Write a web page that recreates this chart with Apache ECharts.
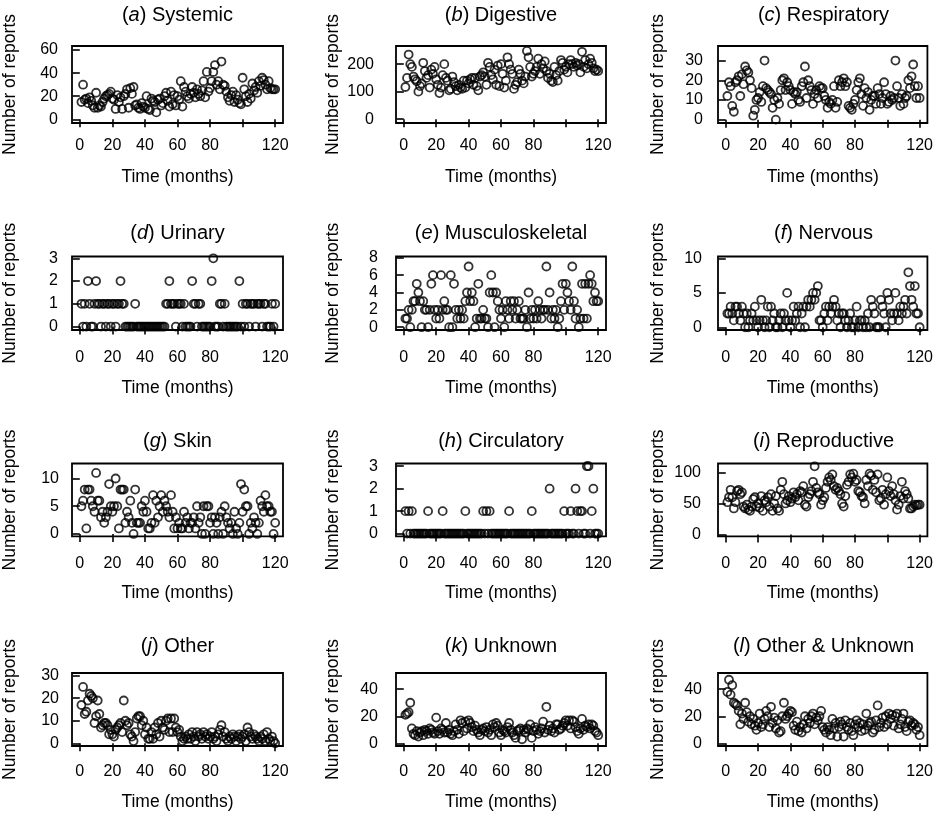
<!DOCTYPE html>
<html>
<head>
<meta charset="utf-8">
<title>Reports by system</title>
<script src="https://cdn.jsdelivr.net/npm/echarts@6/dist/echarts.min.js"></script>
<style>
  html, body { margin: 0; padding: 0; background: #fff; }
  #chart { width: 936px; height: 813px; }
</style>
</head>
<body>
<div id="chart"></div>
<script>
// month index 1..120
const months = Array.from({ length: 120 }, (_, i) => i + 1)

const systemic = [
  15, 30, 17, 18, 14, 19, 16, 12, 10, 23,
  10, 12, 11, 15, 18, 20, 21, 22, 24, 18,
  17, 9, 21, 15, 19, 9, 20, 22, 26, 10,
  27, 22, 28, 12, 13, 10, 9, 14, 11, 10,
  20, 9, 8, 18, 16, 15, 6, 17, 18, 12,
  14, 20, 23, 16, 11, 24, 13, 21, 12, 20,
  17, 33, 11, 28, 24, 20, 18, 22, 28, 23,
  19, 26, 22, 20, 25, 33, 19, 41, 24, 27,
  33, 41, 47, 30, 33, 26, 50, 30, 29, 24,
  19, 16, 21, 24, 15, 21, 17, 14, 13, 36,
  26, 20, 15, 22, 18, 31, 25, 28, 23, 33,
  29, 36, 34, 30, 26, 33, 27, 26, 26, 26
]
const digestive = [
  117, 150, 235, 200, 190, 155, 145, 138, 100, 120,
  130, 205, 175, 150, 160, 115, 180, 165, 190, 145,
  125, 95, 115, 160, 200, 150, 140, 105, 110, 155,
  135, 120, 105, 125, 115, 110, 140, 115, 140, 130,
  145, 150, 125, 150, 120, 105, 155, 160, 170, 155,
  125, 205, 190, 160, 145, 180, 125, 195, 120, 200,
  165, 115, 140, 225, 200, 180, 165, 110, 125, 135,
  180, 165, 140, 130, 155, 248, 225, 190, 155, 165,
  175, 190, 220, 165, 200, 185, 210, 175, 150, 165,
  140, 135, 190, 160, 140, 175, 215, 205, 180, 190,
  170, 200, 215, 200, 190, 205, 195, 200, 170, 245,
  190, 215, 185, 200, 220, 205, 185, 175, 180, 175
]
const respiratory = [
  12, 19, 17, 7, 4, 19, 20, 22, 12, 23,
  18, 27, 25, 24, 20, 16, 2, 5, 10, 11,
  14, 9, 17, 30, 16, 15, 14, 13, 6, 10,
  0, 11, 8, 15, 20, 21, 15, 19, 17, 15,
  8, 14, 13, 14, 10, 9, 17, 19, 27, 11,
  20, 17, 15, 8, 13, 15, 11, 17, 16, 16,
  12, 10, 6, 9, 8, 10, 17, 6, 9, 20,
  17, 19, 21, 17, 19, 7, 6, 5, 8, 10,
  15, 19, 21, 13, 7, 16, 11, 14, 5, 10,
  12, 12, 8, 16, 13, 8, 11, 19, 13, 8,
  9, 12, 10, 11, 30, 17, 11, 7, 13, 8,
  11, 12, 20, 16, 22, 28, 17, 11, 17, 11
]
const urinary = [
  1, 0, 1, 0, 2, 1, 0, 0, 1, 2,
  1, 1, 0, 1, 1, 0, 1, 1, 0, 1,
  1, 0, 1, 1, 2, 1, 1, 0, 0, 0,
  0, 0, 0, 1, 0, 0, 0, 0, 0, 0,
  0, 0, 0, 0, 0, 0, 0, 0, 0, 0,
  0, 0, 1, 1, 2, 1, 1, 1, 0, 1,
  1, 1, 0, 1, 0, 0, 0, 0, 2, 1,
  1, 0, 1, 1, 0, 0, 0, 0, 0, 0,
  2, 3, 0, 0, 0, 1, 1, 0, 1, 0,
  0, 0, 0, 0, 0, 0, 0, 2, 0, 1,
  0, 1, 1, 0, 1, 1, 1, 0, 1, 1,
  1, 0, 1, 1, 0, 0, 0, 1, 0, 1
]
const musculoskeletal = [
  1, 1, 2, 0, 2, 3, 3, 5, 4, 3,
  0, 3, 2, 2, 0, 2, 5, 6, 2, 1,
  2, 1, 6, 2, 3, 2, 2, 0, 6, 0,
  5, 2, 1, 2, 1, 2, 1, 3, 4, 7,
  3, 4, 3, 0, 1, 5, 1, 1, 2, 1,
  1, 0, 4, 6, 4, 0, 4, 3, 2, 1,
  2, 0, 3, 2, 1, 3, 2, 3, 1, 2,
  3, 1, 1, 1, 2, 0, 4, 1, 2, 1,
  2, 1, 3, 2, 1, 2, 2, 7, 2, 4,
  1, 2, 1, 2, 0, 1, 3, 5, 2, 5,
  4, 3, 2, 7, 3, 1, 2, 0, 1, 5,
  1, 5, 1, 5, 6, 5, 3, 4, 3, 3
]
const nervous = [
  2, 2, 3, 2, 1, 3, 3, 2, 1, 3,
  2, 0, 2, 0, 1, 2, 1, 3, 1, 0,
  1, 4, 1, 0, 1, 3, 0, 3, 1, 2,
  0, 0, 1, 2, 0, 2, 1, 5, 1, 0,
  1, 3, 1, 2, 3, 0, 2, 3, 0, 3,
  4, 3, 4, 5, 4, 5, 6, 1, 1, 0,
  2, 3, 1, 3, 2, 3, 4, 3, 1, 2,
  0, 2, 2, 1, 0, 1, 2, 0, 0, 1,
  3, 0, 1, 1, 0, 1, 0, 2, 0, 4,
  3, 2, 0, 0, 0, 4, 3, 2, 0, 5,
  4, 2, 1, 2, 5, 2, 1, 3, 2, 3,
  4, 2, 8, 6, 4, 3, 6, 2, 2, 0
]
const skin = [
  5, 6, 8, 1, 8, 8, 6, 5, 4, 11,
  6, 6, 3, 4, 2, 3, 4, 9, 5, 4,
  5, 10, 5, 1, 8, 8, 8, 2, 4, 3,
  6, 2, 0, 8, 2, 2, 2, 5, 4, 6,
  4, 1, 1, 2, 7, 2, 6, 3, 5, 7,
  4, 6, 5, 4, 3, 7, 4, 1, 3, 1,
  2, 1, 1, 4, 2, 3, 1, 2, 2, 3,
  1, 5, 2, 3, 0, 5, 0, 5, 5, 2,
  3, 0, 3, 2, 0, 3, 4, 0, 5, 3,
  2, 1, 2, 0, 4, 1, 0, 2, 9, 4,
  8, 5, 5, 0, 2, 1, 3, 2, 0, 2,
  6, 5, 4, 7, 5, 5, 4, 4, 0, 2
]
const circulatory = [
  1, 0, 1, 0, 1, 0, 0, 0, 0, 0,
  0, 0, 0, 0, 1, 0, 0, 0, 0, 0,
  0, 0, 0, 1, 0, 0, 0, 0, 0, 0,
  0, 0, 0, 0, 0, 0, 0, 1, 0, 0,
  0, 0, 0, 0, 0, 0, 0, 0, 1, 0,
  1, 0, 1, 0, 0, 0, 0, 0, 0, 0,
  0, 0, 0, 0, 1, 0, 0, 0, 0, 0,
  0, 0, 0, 0, 0, 0, 0, 0, 1, 0,
  0, 0, 0, 0, 0, 0, 0, 0, 0, 2,
  0, 0, 0, 0, 0, 0, 0, 0, 1, 0,
  0, 0, 1, 0, 0, 2, 1, 0, 1, 1,
  0, 0, 3, 3, 0, 1, 2, 0, 0, 0
]
const reproductive = [
  52, 60, 72, 60, 42, 52, 70, 72, 65, 68,
  45, 42, 48, 40, 38, 45, 57, 60, 45, 50,
  43, 62, 38, 55, 52, 60, 45, 65, 38, 50,
  62, 42, 38, 72, 85, 65, 50, 55, 62, 52,
  58, 68, 60, 65, 55, 70, 68, 78, 48, 45,
  60, 65, 70, 85, 110, 75, 68, 65, 48, 55,
  60, 75, 85, 92, 88, 97, 78, 72, 75, 70,
  65, 50, 45, 62, 80, 85, 97, 92, 98, 85,
  88, 70, 68, 62, 60, 50, 88, 78, 98, 95,
  72, 88, 68, 97, 55, 58, 72, 48, 65, 92,
  70, 62, 78, 65, 55, 40, 48, 62, 85, 58,
  70, 65, 58, 42, 42, 45, 48, 47, 48, 48
]
const other = [
  17, 25, 13, 14, 19, 22, 21, 20, 9, 12,
  19, 13, 7, 8, 9, 9, 8, 4, 6, 4,
  3, 6, 7, 8, 9, 5, 19, 10, 8, 9,
  4, 3, 1, 5, 11, 12, 12, 8, 10, 4,
  7, 2, 2, 5, 2, 7, 4, 9, 3, 10,
  7, 6, 10, 11, 5, 11, 5, 11, 7, 5,
  6, 3, 1, 2, 3, 2, 4, 2, 5, 3,
  1, 5, 3, 4, 2, 5, 3, 4, 2, 3,
  5, 2, 3, 1, 4, 6, 8, 3, 5, 2,
  1, 3, 2, 4, 3, 1, 3, 4, 2, 3,
  4, 1, 7, 5, 3, 2, 4, 3, 2, 1,
  3, 2, 4, 1, 5, 2, 1, 3, 1, 0
]
const unknown = [
  21, 22, 23, 30, 11, 7, 6, 9, 5, 8,
  9, 6, 10, 9, 7, 11, 10, 8, 7, 19,
  9, 7, 11, 10, 8, 15, 8, 10, 7, 6,
  9, 14, 10, 7, 17, 15, 9, 16, 11, 17,
  15, 12, 9, 13, 10, 8, 6, 10, 11, 9,
  12, 8, 10, 6, 14, 12, 15, 13, 8, 6,
  10, 9, 8, 12, 15, 10, 8, 6, 4, 9,
  10, 11, 3, 10, 8, 11, 10, 14, 4, 9,
  12, 10, 7, 9, 11, 16, 8, 27, 10, 13,
  9, 11, 8, 14, 14, 10, 11, 13, 15, 17,
  13, 17, 11, 17, 16, 12, 9, 7, 11, 18,
  10, 13, 12, 14, 11, 14, 13, 9, 8, 6
]
const otherUnknown = [
  38, 47, 36, 43, 30, 29, 28, 24, 14, 22,
  18, 30, 23, 16, 20, 14, 18, 13, 10, 15,
  22, 12, 14, 18, 24, 20, 12, 27, 15, 19,
  11, 17, 8, 9, 20, 30, 18, 20, 22, 24,
  23, 13, 10, 16, 9, 12, 8, 14, 20, 11,
  18, 15, 20, 22, 14, 19, 17, 20, 24, 12,
  10, 8, 12, 10, 6, 18, 11, 15, 5, 12,
  16, 14, 5, 17, 12, 10, 15, 9, 6, 14,
  17, 12, 15, 9, 14, 10, 22, 13, 15, 16,
  8, 10, 17, 28, 12, 15, 19, 12, 20, 14,
  22, 18, 21, 13, 20, 22, 11, 14, 18, 22,
  12, 9, 16, 17, 13, 15, 14, 10, 12, 6
]

const xTicks = [0, 20, 40, 60, 80, 100, 120]
const xTickLabels = [0, 20, 40, 60, 80, 120]

const panels = [
  { letter: 'a', name: 'Systemic', data: systemic, yTicks: [0, 20, 40, 60], yMin: -3.2, yMax: 63.5 },
  { letter: 'b', name: 'Digestive', data: digestive, yTicks: [0, 100, 200], yMin: -14, yMax: 266 },
  { letter: 'c', name: 'Respiratory', data: respiratory, yTicks: [0, 10, 20, 30], yMin: -1.7, yMax: 37.4 },
  { letter: 'd', name: 'Urinary', data: urinary, yTicks: [0, 1, 2, 3], yMin: -0.15, yMax: 3.08 },
  { letter: 'e', name: 'Musculoskeletal', data: musculoskeletal, yTicks: [0, 2, 4, 6, 8], yMin: -0.32, yMax: 8.15 },
  { letter: 'f', name: 'Nervous', data: nervous, yTicks: [0, 5, 10], yMin: -0.4, yMax: 10.3 },
  { letter: 'g', name: 'Skin', data: skin, yTicks: [0, 5, 10], yMin: -0.42, yMax: 12.7 },
  { letter: 'h', name: 'Circulatory', data: circulatory, yTicks: [0, 1, 2, 3], yMin: -0.12, yMax: 3.12 },
  { letter: 'i', name: 'Reproductive', data: reproductive, yTicks: [0, 50, 100], yMin: -3, yMax: 114.5 },
  { letter: 'j', name: 'Other', data: other, yTicks: [0, 10, 20, 30], yMin: -1.2, yMax: 31.2 },
  { letter: 'k', name: 'Unknown', data: unknown, yTicks: [0, 20, 40], yMin: -2, yMax: 52 },
  { letter: 'l', name: 'Other & Unknown', data: otherUnknown, yTicks: [0, 20, 40], yMin: -2, yMax: 52 }
]

// layout, px
const colLeft = [72, 396, 718]
const colWidth = [211, 210, 211]
const rowTop = [46, 256.5, 463.5, 673]
const rowHeight = [77, 73.5, 72.8, 73]
const titleTop = [5, 223, 431, 636]
const xLabelMargin = [15, 20, 19, 18]
const xNameGap = [45, 49, 48, 47]
const yNameGap = [53, 54, 51]
const yLabelMargin = [14, 22, 15, 14, 18, 16, 13, 18, 17, 13, 18, 16]

const FONT = '"Liberation Sans", Arial, Helvetica, sans-serif'

const chart = echarts.init(document.getElementById('chart'), null, { renderer: 'canvas' })

const grid = [], xAxis = [], yAxis = [], series = [], title = []
panels.forEach((p, i) => {
  const row = Math.floor(i / 3)
  const col = i % 3
  grid.push({
    left: colLeft[col],
    top: rowTop[row],
    width: colWidth[col],
    height: rowHeight[row],
    show: true,
    borderColor: '#000',
    borderWidth: 1.8,
    backgroundColor: 'transparent'
  })
  xAxis.push({
    gridIndex: i,
    type: 'value',
    min: -4.8,
    max: 124.8,
    name: 'Time (months)',
    nameLocation: 'middle',
    nameGap: xNameGap[row],
    nameTextStyle: { fontFamily: FONT, fontSize: 17.5, color: '#000' },
    axisLine: { show: false },
    splitLine: { show: false },
    axisTick: { show: true, length: 8, lineStyle: { color: '#000', width: 1.6 }, customValues: xTicks },
    axisLabel: { margin: xLabelMargin[row], fontFamily: FONT, fontSize: 16, color: '#000', customValues: xTickLabels }
  })
  yAxis.push({
    gridIndex: i,
    type: 'value',
    min: p.yMin,
    max: p.yMax,
    name: 'Number of reports',
    nameLocation: 'middle',
    nameRotate: 90,
    nameGap: yNameGap[col],
    nameTextStyle: { fontFamily: FONT, fontSize: 17.5, color: '#000' },
    axisLine: { show: false },
    splitLine: { show: false },
    axisTick: { show: true, length: 7, lineStyle: { color: '#000', width: 1.6 }, customValues: p.yTicks },
    axisLabel: { margin: yLabelMargin[i], fontFamily: FONT, fontSize: 16, color: '#000', customValues: p.yTicks }
  })
  series.push({
    type: 'scatter',
    xAxisIndex: i,
    yAxisIndex: i,
    symbol: 'circle',
    symbolSize: 8,
    clip: false,
    silent: true,
    itemStyle: { color: 'rgba(0,0,0,0)', borderColor: '#000', borderWidth: 1.8 },
    data: months.map((m, k) => [m, p.data[k]])
  })
  title.push({
    text: '({it|' + p.letter + '}) ' + p.name,
    left: colLeft[col] + colWidth[col] / 2,
    top: titleTop[row],
    textAlign: 'center',
    padding: 0,
    textStyle: {
      fontFamily: FONT, fontSize: 20, fontWeight: 'normal', color: '#000',
      rich: { it: { fontFamily: FONT, fontSize: 20, fontStyle: 'italic', color: '#000' } }
    }
  })
})

chart.setOption({
  animation: false,
  backgroundColor: '#fff',
  title, grid, xAxis, yAxis, series
})
</script>
</body>
</html>
